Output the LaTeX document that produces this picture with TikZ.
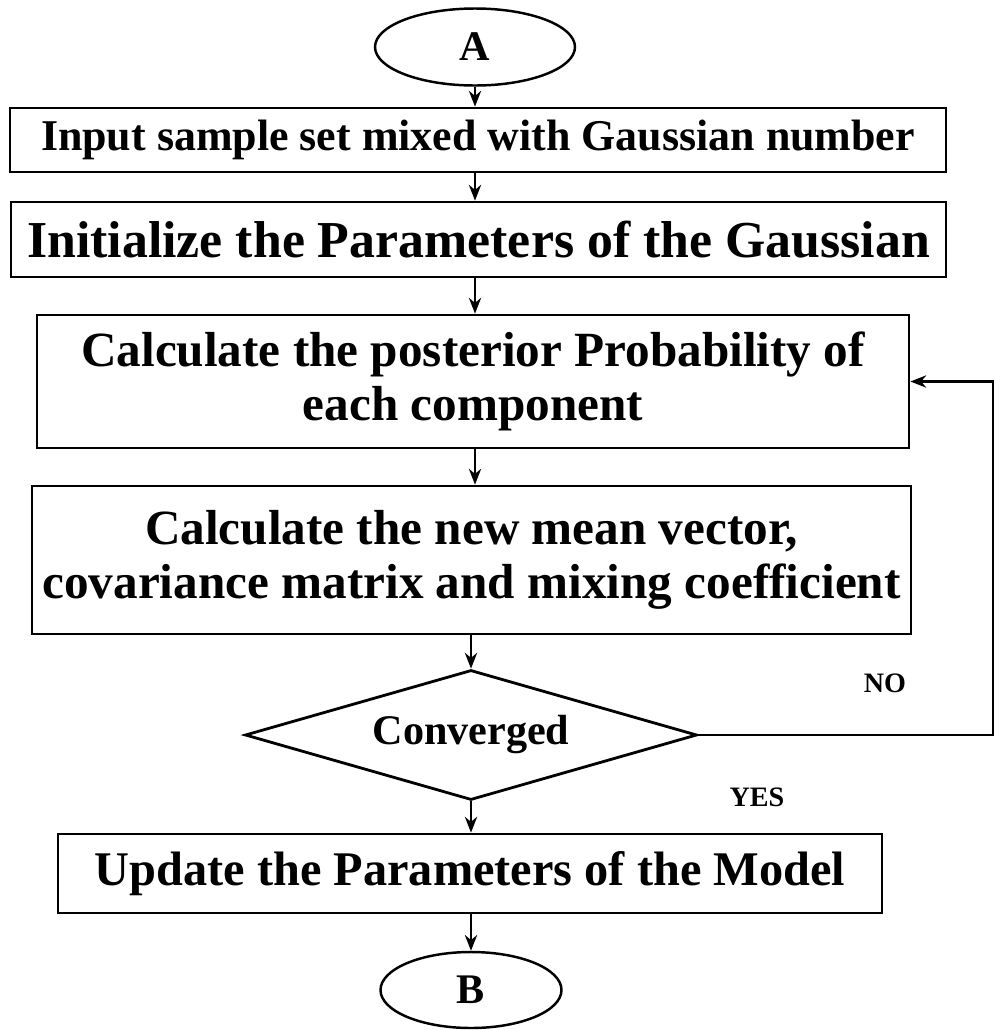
\documentclass[tikz,border=0pt]{standalone}
\usepackage{fontspec}
\setmainfont{Liberation Serif}
\usepackage{tikz}
\usetikzlibrary{shapes.geometric, arrows.meta, positioning, calc}
\tikzstyle{process} = [rectangle, draw=black, line width=1.6pt, fill=white, inner sep=0pt, align=center, font=\bfseries\fontsize{28}{31}\selectfont]
\tikzstyle{terminal} = [ellipse, draw=black, line width=1.4pt, inner sep=0pt, font=\bfseries\fontsize{24}{26}\selectfont]
\tikzstyle{decision} = [diamond, draw=black, line width=1.6pt, inner sep=0pt, font=\bfseries\fontsize{24}{26}\selectfont]
\tikzstyle{answer} = [font=\bfseries\fontsize{16}{18}\selectfont]
\tikzstyle{arrow} = [line width=1.2pt,-{Stealth[length=9pt,width=7pt]}]

\begin{document}
\begin{tikzpicture}
    \useasboundingbox (0,0) rectangle (19.92,-20.6);

    % Start
    \node[terminal, minimum width=4cm, minimum height=1.54cm] (A) at (9.5,-0.94) {A};

    % Steps of the EM loop
    \node[process, minimum width=18.72cm, minimum height=1.28cm, font=\bfseries\fontsize{25}{28}\selectfont] (input) at (9.56,-2.8) {Input sample set mixed with Gaussian number};
    \node[process, minimum width=18.7cm, minimum height=1.5cm, font=\bfseries\fontsize{29.5}{32}\selectfont] (init) at (9.57,-4.79) {Initialize the Parameters of the Gaussian};
    \node[process, minimum width=17.44cm, minimum height=2.66cm] (post) at (9.46,-7.63) {Calculate the posterior Probability of\\each component};
    \node[process, minimum width=17.58cm, minimum height=2.96cm] (mstep) at (9.43,-11.2) {Calculate the new mean vector,\\covariance matrix and mixing coefficient};
    \node[decision, minimum width=9.04cm, minimum height=2.6cm, aspect=3.5] (conv) at (9.42,-14.7) {Converged};
    \node[process, minimum width=16.48cm, minimum height=1.58cm, font=\bfseries\fontsize{27.5}{30}\selectfont] (update) at (9.4,-17.47) {Update the Parameters of the Model};

    % End
    \node[terminal, minimum width=3.62cm, minimum height=1.52cm] (B) at (9.42,-19.8) {B};

    % Branch labels
    \node[answer] (no) at (17.7,-13.66) {NO};
    \node[answer] (yes) at (15.14,-15.94) {YES};

    % Main flow
    \draw[arrow] (A.south) -- (A.south |- input.north);
    \draw[arrow] (A.south |- input.south) -- (A.south |- init.north);
    \draw[arrow] (A.south |- init.south) -- (A.south |- post.north);
    \draw[arrow] (A.south |- post.south) -- (A.south |- mstep.north);
    \draw[arrow] (conv.north |- mstep.south) -- (conv.north);
    \draw[arrow] (conv.south) -- (conv.south |- update.north);
    \draw[arrow] (conv.south |- update.south) -- (B.north);

    % Loop back when not converged
    \coordinate (back) at (19.86,-14.7);
    \draw[arrow] (conv.east) -- (back) |- (post.east);
\end{tikzpicture}
\end{document}
